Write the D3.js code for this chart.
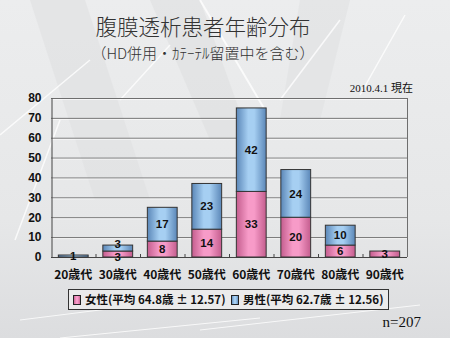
<!DOCTYPE html>
<html><head><meta charset="utf-8">
<script src="https://cdn.jsdelivr.net/npm/d3@7"></script>
<style>
body{margin:0;padding:0;overflow:hidden;}
svg{display:block;}
</style></head>
<body>
<svg id="c" width="450" height="338"></svg>
<script>
const categories = ["20歳代","30歳代","40歳代","50歳代","60歳代","70歳代","80歳代","90歳代"];
const female = [0,3,8,14,33,20,6,3];
const male = [1,3,17,23,42,24,10,0];
const yTicks = [0,10,20,30,40,50,60,70,80];
const seriesNames = ["女性(平均 64.8歳 ± 12.57)","男性(平均 62.7歳 ± 12.56)"];
const titleText = "腹膜透析患者年齢分布";
const subtitleText = "（HD併用・ｶﾃｰﾃﾙ留置中を含む）";
const dateText = "2010.4.1 現在";
const nText = "n=207";

const svg = d3.select("#c");
const W = 450, H = 338;
const defs = svg.append("defs");

const bg = defs.append("linearGradient").attr("id","bg").attr("x1",0).attr("y1",0).attr("x2",0).attr("y2",1);
bg.append("stop").attr("offset","0%").attr("stop-color","#ecedee");
bg.append("stop").attr("offset","65%").attr("stop-color","#e6e7e8");
bg.append("stop").attr("offset","100%").attr("stop-color","#dcdddf");
svg.append("rect").attr("width",W).attr("height",H).attr("fill","url(#bg)");

// decorative background shapes
const deco = svg.append("g").attr("opacity",0.55);
deco.append("path").attr("d","M30,0 L85,0 L150,200 L95,200 Z").attr("fill","#dfe0e1");
deco.append("path").attr("d","M150,0 L200,0 L250,140 L210,140 Z").attr("fill","#dedfe0");
deco.append("path").attr("d","M300,0 L350,0 L320,120 L280,120 Z").attr("fill","#e0e1e2");
const dl = svg.append("g").attr("stroke","#ffffff").attr("fill","none").attr("opacity",0.8);
dl.append("line").attr("x1",200).attr("y1",0).attr("x2",265).attr("y2",110).attr("stroke-width",2);
dl.append("line").attr("x1",170).attr("y1",45).attr("x2",120).attr("y2",100).attr("stroke-width",1.5);
dl.append("line").attr("x1",90).attr("y1",60).attr("x2",0).attr("y2",135).attr("stroke-width",1.5);
dl.append("line").attr("x1",60).attr("y1",120).attr("x2",15).attr("y2",240).attr("stroke-width",1.5);
dl.append("line").attr("x1",340).attr("y1",20).attr("x2",280).attr("y2",100).attr("stroke-width",1.5);
dl.append("line").attr("x1",405).attr("y1",15).attr("x2",360).attr("y2",95).attr("stroke-width",1.5);
dl.append("line").attr("x1",20).attr("y1",320).attr("x2",180).attr("y2",300).attr("stroke-width",1);
dl.append("line").attr("x1",200).attr("y1",330).attr("x2",420).attr("y2",305).attr("stroke-width",1);
dl.append("line").attr("x1",60).attr("y1",338).attr("x2",260).attr("y2",318).attr("stroke-width",1);

// gradients for bars
function barGrad(id, edge, mid){
  const g = defs.append("linearGradient").attr("id",id).attr("x1",0).attr("y1",0).attr("x2",1).attr("y2",0);
  g.append("stop").attr("offset","0%").attr("stop-color",edge);
  g.append("stop").attr("offset","40%").attr("stop-color",mid);
  g.append("stop").attr("offset","60%").attr("stop-color",mid);
  g.append("stop").attr("offset","100%").attr("stop-color",edge);
}
barGrad("gf","#c45d8e","#f79bc8");
barGrad("gm","#5b87b8","#a6cff2");

const pLeft = 51, pRight = 407, pTop = 98, pBottom = 257;
const x = d3.scaleBand().domain(categories).range([pLeft,pRight]).paddingInner(0.33).paddingOuter(0.165);
const y = d3.scaleLinear().domain([0,80]).range([pBottom,pTop]);

// grid
svg.append("g").selectAll("line").data(yTicks.filter(d=>d>0)).join("line")
  .attr("x1",pLeft).attr("x2",pRight).attr("y1",d=>y(d)+0.5).attr("y2",d=>y(d)+0.5)
  .attr("stroke","#6e6e6e").attr("stroke-width",1);
svg.append("g").selectAll("line").data(yTicks.filter(d=>d>0)).join("line")
  .attr("x1",pLeft).attr("x2",pRight).attr("y1",d=>y(d)+1.5).attr("y2",d=>y(d)+1.5)
  .attr("stroke","#ffffff").attr("stroke-width",1).attr("opacity",0.7);
svg.append("line").attr("x1",pRight+0.5).attr("x2",pRight+0.5).attr("y1",pTop).attr("y2",pBottom)
  .attr("stroke","#6e6e6e");

// y axis
const yAxis = d3.axisLeft(y).tickValues(yTicks).tickSize(0).tickPadding(10);
const ya = svg.append("g").attr("transform",`translate(${pLeft+0.5},0)`).call(yAxis);
ya.select(".domain").attr("stroke","#444");
ya.selectAll("text").attr("font-family","'Liberation Sans',Arial,sans-serif").attr("font-size","12px")
  .attr("font-weight","bold").attr("fill","#111");

// x axis
const xAxis = d3.axisBottom(x).tickSize(0).tickPadding(13);
const xa = svg.append("g").attr("transform",`translate(0,${pBottom+0.5})`).call(xAxis);
xa.select(".domain").attr("stroke","#444").attr("d",`M${pLeft},0H${pRight}`);
xa.selectAll("text").attr("font-family","'Noto Sans CJK JP',sans-serif").attr("font-size","12px")
  .attr("font-weight","bold").attr("fill","#111");
// small boundary ticks
const step = x.step();
svg.append("g").selectAll("line").data(categories.slice(1)).join("line")
  .attr("x1",d=>x(d)-x.paddingInner()*step/2).attr("x2",d=>x(d)-x.paddingInner()*step/2)
  .attr("y1",pBottom-3).attr("y2",pBottom)
  .attr("stroke","#444").attr("transform","translate(0.5,0)");

// bars
const data = categories.map((c,i)=>({c, f:female[i], m:male[i]}));
const bars = svg.append("g");
bars.selectAll("rect.f").data(data.filter(d=>d.f>0)).join("rect").attr("class","f")
  .attr("x",d=>x(d.c)).attr("width",x.bandwidth())
  .attr("y",d=>y(d.f)).attr("height",d=>y(0)-y(d.f))
  .attr("fill","url(#gf)").attr("stroke","#333").attr("stroke-width",1);
bars.selectAll("rect.m").data(data.filter(d=>d.m>0)).join("rect").attr("class","m")
  .attr("x",d=>x(d.c)).attr("width",x.bandwidth())
  .attr("y",d=>y(d.f+d.m)).attr("height",d=>y(d.f)-y(d.f+d.m))
  .attr("fill","url(#gm)").attr("stroke","#333").attr("stroke-width",1);

// labels (keep stacked labels at least ~12px apart)
function labelPos(d){
  let fy = (y(0)+y(d.f))/2, my = (y(d.f)+y(d.f+d.m))/2;
  if (d.f>0 && d.m>0 && fy-my < 12.5){
    const mid=(fy+my)/2; fy = Math.min(mid+6.25, y(0)-0.5); my = fy-12.5;
  }
  return {fy,my};
}
const lab = svg.append("g").attr("font-family","'Liberation Sans',Arial,sans-serif").attr("font-size","11.5px")
  .attr("font-weight","bold").attr("fill","#111").attr("text-anchor","middle");
lab.selectAll("text.f").data(data.filter(d=>d.f>0)).join("text")
  .attr("x",d=>x(d.c)+x.bandwidth()/2).attr("y",d=>labelPos(d).fy).attr("dy","0.36em").text(d=>d.f);
lab.selectAll("text.m").data(data.filter(d=>d.m>0)).join("text")
  .attr("x",d=>x(d.c)+x.bandwidth()/2).attr("y",d=>labelPos(d).my).attr("dy","0.36em").text(d=>d.m);

// titles
svg.append("text").attr("x",203).attr("y",35).attr("text-anchor","middle")
  .attr("font-family","'Noto Sans CJK JP',sans-serif").attr("font-size","21.5px").attr("font-weight","300")
  .attr("fill","#333").text(titleText);
svg.append("text").attr("x",203).attr("y",59).attr("text-anchor","middle")
  .attr("font-family","'Noto Sans CJK JP',sans-serif").attr("font-size","15px").attr("font-weight","300")
  .attr("fill","#333").text(subtitleText);
svg.append("text").attr("x",413).attr("y",92).attr("text-anchor","end")
  .attr("font-family","'Liberation Serif','Noto Sans CJK JP',serif").attr("font-size","11px")
  .attr("fill","#111").text(dateText);
svg.append("text").attr("x",421).attr("y",327).attr("text-anchor","end")
  .attr("font-family","'Liberation Serif',serif").attr("font-size","15px")
  .attr("fill","#111").text(nText);

// legend
const lg = svg.append("g");
lg.append("rect").attr("x",68.5).attr("y",289.5).attr("width",320).attr("height",20)
  .attr("fill","#ebebeb").attr("stroke","#333");
const items = [{n:seriesNames[0],g:"url(#gf)",x:73},{n:seriesNames[1],g:"url(#gm)",x:231}];
items.forEach(it=>{
  lg.append("rect").attr("x",it.x+0.5).attr("y",295.5).attr("width",7).attr("height",9)
    .attr("fill",it.g).attr("stroke","#222");
  lg.append("text").attr("x",it.x+12).attr("y",300).attr("dy","0.36em")
    .attr("font-family","'Noto Sans CJK JP',sans-serif").attr("font-size","11.5px").attr("font-weight","bold")
    .attr("fill","#111").text(it.n);
});
</script>
</body></html>
